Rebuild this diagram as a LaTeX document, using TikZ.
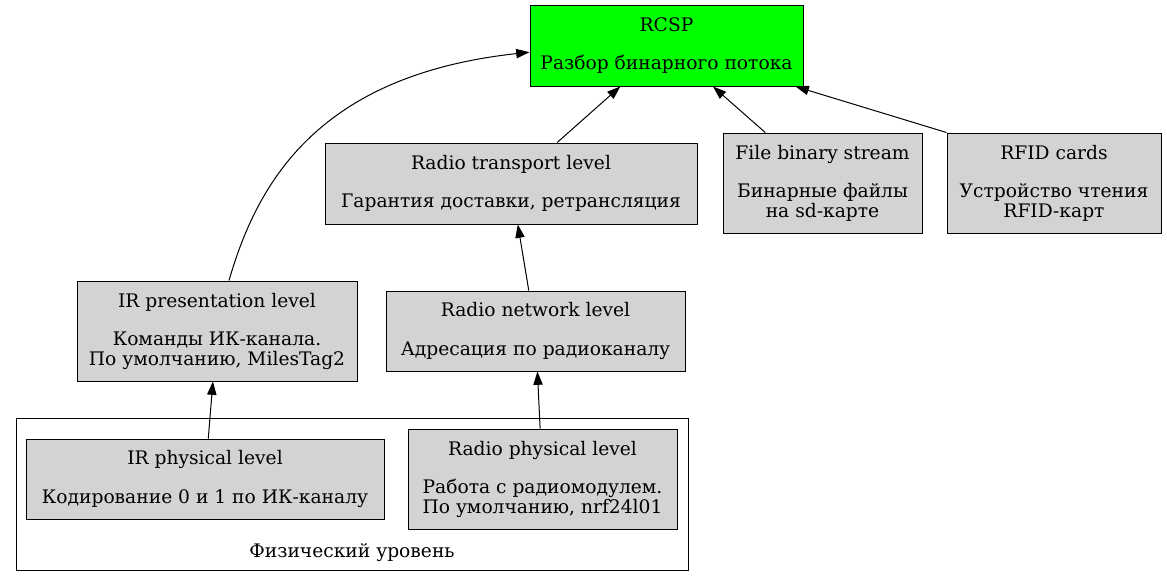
\documentclass[tikz,border=0pt]{standalone}
\usepackage{fontspec}
\setmainfont{DejaVu Serif}
\usetikzlibrary{arrows.meta}
\definecolor{gvgray}{HTML}{D3D3D3}
\definecolor{gvgreen}{HTML}{00FF00}
\def\pxu{0.75pt}

\begin{document}
\begin{tikzpicture}[x=0.75pt,y=-0.75pt,
    box/.style={draw, fill=gvgray, line width=0.75pt, inner sep=0pt, align=center,
        font=\fontsize{14}{14.5}\selectfont},
    edge/.style={-{Triangle[length=10pt,width=7pt]}, line width=0.75pt}]
    \useasboundingbox (0,0) rectangle (1167,587);

    % Разбор потока
    \node[box, fill=gvgreen, minimum width=273*\pxu, minimum height=81*\pxu] (rcsp) at (666.5,45.5)
        {RCSP\\[14.5pt]Разбор бинарного потока};

    \node[box, minimum width=372*\pxu, minimum height=81*\pxu] (rtrans) at (511,183.5)
        {Radio transport level\\[14.5pt] Гарантия доставки, ретрансляция};
    \node[box, minimum width=199*\pxu, minimum height=100*\pxu] (filebin) at (822.5,183)
        {File binary stream\\[14.5pt]Бинарные файлы \\на sd-карте};
    \node[box, minimum width=214*\pxu, minimum height=100*\pxu] (rfid) at (1054,183)
        {RFID cards\\[14.5pt]Устройство чтения\\RFID-карт};

    \node[box, minimum width=280*\pxu, minimum height=100*\pxu] (irpres) at (217,331)
        {IR presentation level\\[14.5pt] Команды ИК-канала.\\По умолчанию, MilesTag2};
    \node[box, minimum width=299*\pxu, minimum height=80*\pxu] (rnet) at (535.5,331)
        {Radio network level\\[14.5pt] Адресация по радиоканалу};

    % Физический уровень
    \draw[line width=0.75pt] (16,418) rectangle (688,570);
    \node[font=\fontsize{14}{14.5}\selectfont] (physlbl) at (352,553) {Физический уровень};
    \node[box, minimum width=358*\pxu, minimum height=80*\pxu] (irphys) at (205,479)
        {IR physical level\\[14.5pt] Кодирование 0 и 1 по ИК-каналу};
    \node[box, minimum width=269*\pxu, minimum height=100*\pxu] (rphys) at (542.5,479)
        {Radio physical level\\[14.5pt] Работа с радиомодулем.\\По умолчанию, nrf24l01};

    \draw[edge] ([xshift=9pt]irpres.north) .. controls (258,180) and (320,75) .. ([yshift=-5pt]rcsp.west);
    \draw[edge] (rtrans) -- (rcsp);
    \draw[edge] (filebin) -- (rcsp);
    \draw[edge] (rfid.north west) -- ([xshift=-6pt]rcsp.south east);
    \draw[edge] (rnet) -- (rtrans);
    \draw[edge] (irphys) -- (irpres);
    \draw[edge] (rphys) -- (rnet);
\end{tikzpicture}
\end{document}
